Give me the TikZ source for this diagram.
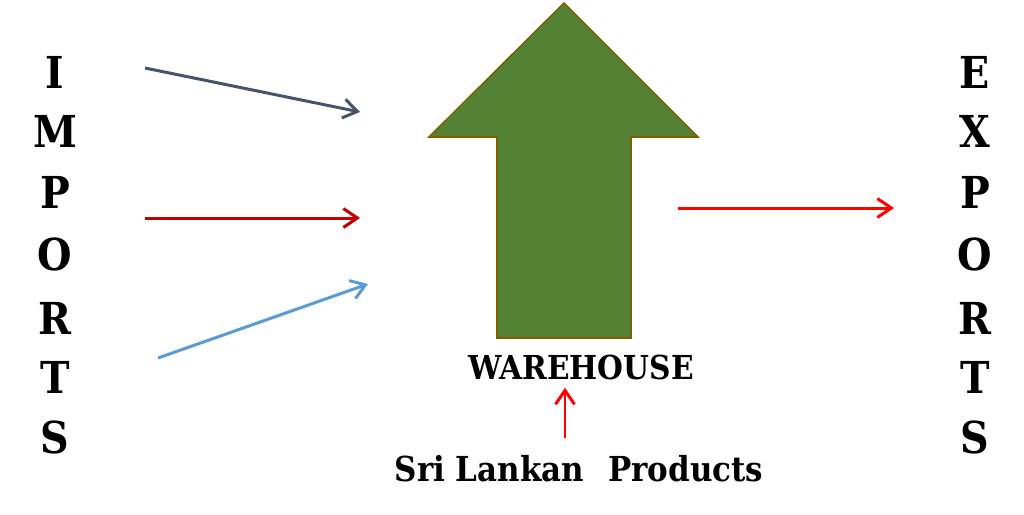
\documentclass[tikz,border=0pt]{standalone}
\usepackage{fontspec}
\setmainfont{DejaVu Serif Condensed}
\usetikzlibrary{arrows.meta}
\definecolor{slate}{HTML}{44546A}
\definecolor{darkred}{HTML}{C00000}
\definecolor{skyblue}{HTML}{5B9BD5}
\definecolor{brightred}{HTML}{FF0000}
\definecolor{arrowgreen}{HTML}{548235}
\definecolor{arrowedge}{HTML}{7F6000}
\begin{document}
\begin{tikzpicture}[x=1pt,y=-1pt,
  conn/.style={line width=3pt,-{Straight Barb[length=14pt,width=19pt,line width=3pt]}},
  bigletter/.style={font=\fontsize{44}{44}\selectfont\bfseries,inner sep=0pt},
  label/.style={font=\fontsize{33}{33}\selectfont\bfseries,inner sep=0pt}]
\useasboundingbox (0,0) rectangle (1024,514);
% big arrow
\filldraw[fill=arrowgreen,draw=arrowedge,line width=1.6pt]
  (564,3) -- (698,137) -- (631,137) -- (631,338) -- (497,338) -- (497,137) -- (429,137) -- cycle;
% IMPORTS letters
\foreach \l/\y [count=\i] in {I/72,M/131,P/192,O/254,R/318,T/377,S/437}{
  \node[bigletter] (imp\i) at (55,\y) {\l};
}
\foreach \l/\y [count=\i] in {E/72,X/131,P/192,O/254,R/318,T/377,S/437}{
  \node[bigletter] (exp\i) at (975,\y) {\l};
}
% connectors
\coordinate (a1s) at (145,68);  \coordinate (a1e) at (360,112);
\coordinate (a2s) at (145,218); \coordinate (a2e) at (360,218);
\coordinate (a3s) at (158,358); \coordinate (a3e) at (368,284);
\coordinate (a4s) at (678,208); \coordinate (a4e) at (894,208);
\draw[conn,slate] (a1s) -- (a1e);
\draw[conn,darkred] (a2s) -- (a2e);
\draw[conn,skyblue] (a3s) -- (a3e);
\draw[conn,brightred] (a4s) -- (a4e);
% labels
\node[label] (wh) at (581,367) {WAREHOUSE};
\node[label,font=\fontsize{34.4}{34.4}\selectfont\bfseries] (slp) at (579,469) {Sri Lankan\hspace{0.7em}Products};
\coordinate (vs) at (565,438);
\draw[conn,brightred,line width=2.4pt] (vs) -- ([yshift=-8pt]wh.south -| vs);
\end{tikzpicture}
\end{document}
